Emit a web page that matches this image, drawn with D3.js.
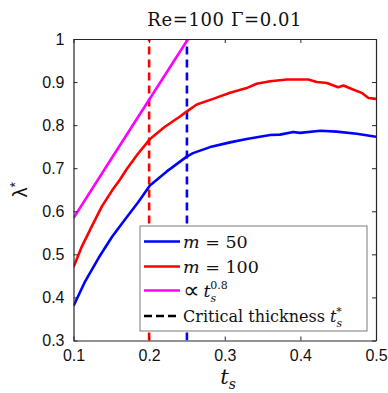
<!DOCTYPE html>
<html><head><meta charset="utf-8">
<script src="https://cdn.jsdelivr.net/npm/d3@7"></script>
<style>
html,body{margin:0;padding:0;background:#fff;}
svg{display:block;}
</style></head>
<body>
<script>
// ---- data ----
const ts_m50 = [0.1, 0.1156, 0.1333, 0.151, 0.1686, 0.186, 0.201, 0.223, 0.2497, 0.258, 0.2806, 0.307, 0.329, 0.36, 0.373, 0.3907, 0.3996, 0.4266, 0.448, 0.4746, 0.5];
const lam_m50 = [0.38, 0.438, 0.492, 0.541, 0.582, 0.622, 0.66, 0.692, 0.727, 0.735, 0.749, 0.76, 0.768, 0.777, 0.778, 0.784, 0.782, 0.787, 0.785, 0.78, 0.773];
const ts_m100 = [0.1, 0.111, 0.1245, 0.1377, 0.151, 0.162, 0.17, 0.185, 0.2008, 0.22, 0.2408, 0.25, 0.263, 0.2846, 0.307, 0.329, 0.342, 0.36, 0.382, 0.4106, 0.4217, 0.435, 0.45, 0.457, 0.468, 0.481, 0.49, 0.5];
const lam_m100 = [0.47, 0.518, 0.566, 0.612, 0.648, 0.675, 0.697, 0.733, 0.767, 0.795, 0.82, 0.832, 0.848, 0.861, 0.875, 0.886, 0.896, 0.902, 0.906, 0.906, 0.9, 0.898, 0.888, 0.892, 0.884, 0.875, 0.863, 0.861];
const ts_pow = [0.1, 0.15, 0.2, 0.2515];
const lam_pow = [0.584, 0.722, 0.859, 1.0];
const critical_ts = [0.2, 0.25];   // m=100 (red), m=50 (blue)
const xTicks = [0.1, 0.2, 0.3, 0.4, 0.5];
const yTicks = [0.3, 0.4, 0.5, 0.6, 0.7, 0.8, 0.9, 1];
const yTickLabels = ["0.3", "0.4", "0.5", "0.6", "0.7", "0.8", "0.9", "1"];
const xTickLabels = ["0.1", "0.2", "0.3", "0.4", "0.5"];

const W = 388, H = 393;
const L = 73.5, R = 376, T = 39, B = 340.5;
const svg = d3.select("body").append("svg").attr("width", W).attr("height", H);

const x = d3.scaleLinear().domain([0.1, 0.5]).range([L, R]);
const y = d3.scaleLinear().domain([0.3, 1]).range([B, T]);

const axisCol = "#262626";
const sans = "'Liberation Sans', Arial, sans-serif";
const serif = "'DejaVu Serif', 'Liberation Serif', serif";

svg.append("defs").append("clipPath").attr("id", "clip")
  .append("rect").attr("x", L).attr("y", T).attr("width", R - L).attr("height", B - T);

const g = svg.append("g").attr("clip-path", "url(#clip)");

// critical dashed lines
const critColors = ["#ff0000", "#0000ff"];
critical_ts.forEach((c, i) => {
  g.append("line")
    .attr("x1", x(c)).attr("x2", x(c))
    .attr("y1", y(0.3)).attr("y2", y(1))
    .attr("stroke", critColors[i]).attr("stroke-width", 2.6)
    .attr("stroke-dasharray", "8,5");
});

const line = d3.line().x(d => x(d[0])).y(d => y(d[1]));
const series = [
  {xs: ts_m50, ys: lam_m50, color: "#0000ff"},
  {xs: ts_m100, ys: lam_m100, color: "#ff0000"},
  {xs: ts_pow, ys: lam_pow, color: "#ff00ff"}
];
series.forEach(s => {
  g.append("path")
    .datum(s.xs.map((v, i) => [v, s.ys[i]]))
    .attr("d", line)
    .attr("fill", "none")
    .attr("stroke", s.color)
    .attr("stroke-width", 2.6)
    .attr("stroke-linejoin", "round");
});

// axes
const tickLen = 4;
const axB = svg.append("g").attr("transform", `translate(0,${B})`)
  .call(d3.axisBottom(x).tickValues(xTicks).tickSizeInner(-tickLen).tickSizeOuter(0)
    .tickFormat((d, i) => xTickLabels[i]).tickPadding(9));
const axT = svg.append("g").attr("transform", `translate(0,${T})`)
  .call(d3.axisTop(x).tickValues(xTicks).tickSizeInner(-tickLen).tickSizeOuter(0).tickFormat(""));
const axL = svg.append("g").attr("transform", `translate(${L},0)`)
  .call(d3.axisLeft(y).tickValues(yTicks).tickSizeInner(-tickLen).tickSizeOuter(0)
    .tickFormat((d, i) => yTickLabels[i]).tickPadding(9));
const axR = svg.append("g").attr("transform", `translate(${R},0)`)
  .call(d3.axisRight(y).tickValues(yTicks).tickSizeInner(-tickLen).tickSizeOuter(0).tickFormat(""));
[axB, axT, axL, axR].forEach(a => {
  a.selectAll("path.domain").attr("stroke", axisCol).attr("stroke-width", 1.2);
  a.selectAll("line").attr("stroke", axisCol).attr("stroke-width", 1);
  a.selectAll("text").attr("fill", "#111").style("font-family", sans).style("font-size", "16px");
});

// title
svg.append("text").attr("x", (L + R) / 2).attr("y", 26)
  .attr("text-anchor", "middle").style("font-family", serif).style("font-size", "18px")
  .style("letter-spacing", "0.6px")
  .attr("fill", "#111").text("Re=100 Γ=0.01");

// y label
const yl = svg.append("text")
  .attr("transform", `translate(27,${(T + B) / 2}) rotate(-90)`)
  .attr("text-anchor", "middle").style("font-family", sans).style("font-size", "20px").attr("fill", "#111");
yl.append("tspan").text("λ");
yl.append("tspan").attr("dy", -7).style("font-size", "14px").text("*");

// x label
const xl = svg.append("text").attr("x", 228).attr("y", 384)
  .style("font-family", serif).style("font-size", "21px").style("font-style", "italic")
  .attr("text-anchor", "middle").attr("fill", "#111");
xl.append("tspan").text("t");
xl.append("tspan").attr("dy", 5).style("font-size", "14px").text("s");

// legend
const lg = svg.append("g");
lg.append("rect").attr("x", 140).attr("y", 226).attr("width", 227).attr("height", 105)
  .attr("fill", "#fff").attr("stroke", "#7a7a7a").attr("stroke-width", 1);
const legendItems = [
  {color: "#0000ff", dash: null, kind: "m50"},
  {color: "#ff0000", dash: null, kind: "m100"},
  {color: "#ff00ff", dash: null, kind: "pow"},
  {color: "#000000", dash: "8,4", kind: "crit"}
];
const rowY = [241.5, 266.5, 290.5, 316];
legendItems.forEach((it, i) => {
  const yy = rowY[i];
  lg.append("line").attr("x1", 144).attr("x2", 180).attr("y1", yy).attr("y2", yy)
    .attr("stroke", it.color).attr("stroke-width", 2.6)
    .attr("stroke-dasharray", it.dash);
  const t = lg.append("text").attr("x", 183).attr("y", yy + 6)
    .style("font-family", serif).style("font-size", it.kind === "crit" ? "16px" : "17.5px").attr("fill", "#111");
  if (it.kind === "m50" || it.kind === "m100") {
    t.append("tspan").style("font-style", "italic").text("m");
    t.append("tspan").text(it.kind === "m50" ? " = 50" : " = 100");
  } else if (it.kind === "pow") {
    t.append("tspan").style("font-family", "'DejaVu Sans', sans-serif").style("font-size", "23px").attr("dy", 1).text("∝");
    t.append("tspan").attr("dx", 4).attr("dy", -1).style("font-style", "italic").text("t");
    t.append("tspan").attr("dy", 5).style("font-size", "11px").style("font-style", "italic").text("s");
    t.append("tspan").attr("dx", -6).attr("dy", -13).style("font-size", "11px").text("0.8");
  } else {
    t.append("tspan").text("Critical thickness ");
    t.append("tspan").style("font-style", "italic").text("t");
    t.append("tspan").attr("dy", 5).style("font-size", "11px").style("font-style", "italic").text("s");
    t.append("tspan").attr("dx", -6).attr("dy", -12).style("font-size", "11px").text("*");
  }
});
</script>
</body></html>
